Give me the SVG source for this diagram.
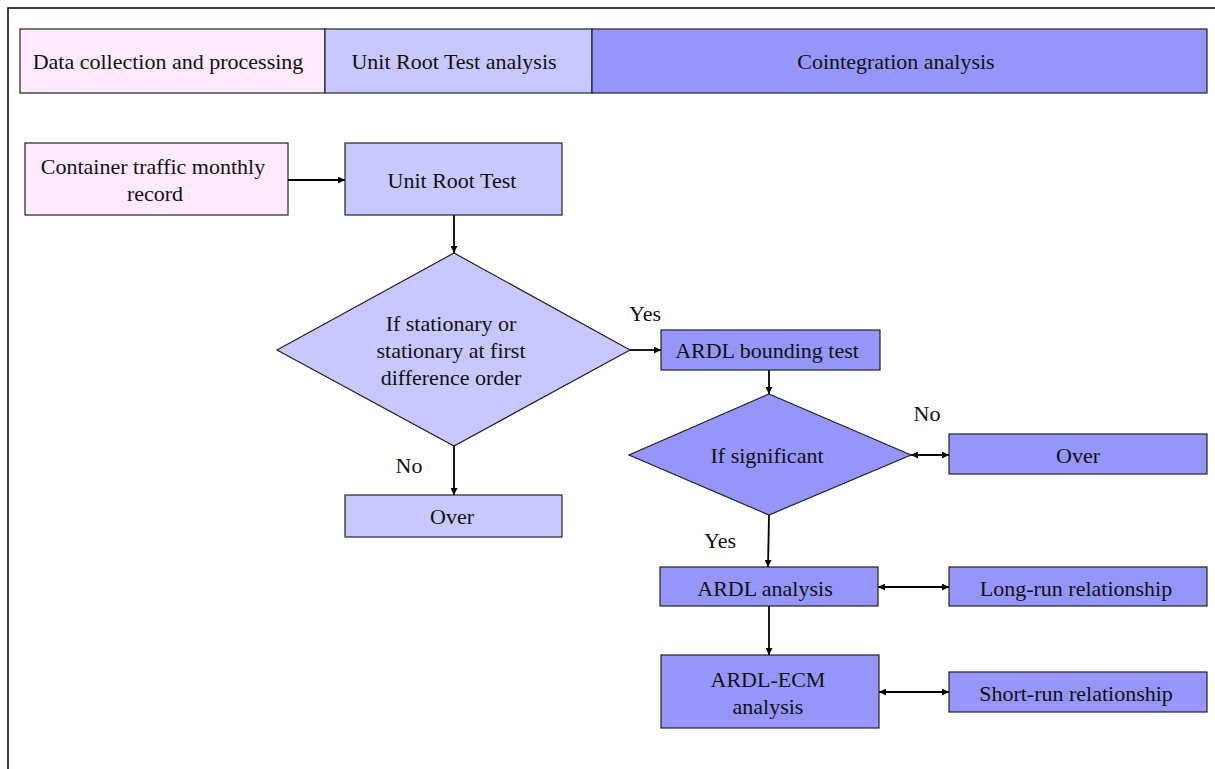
<svg xmlns="http://www.w3.org/2000/svg" width="1215" height="769" viewBox="0 0 1215 769">
  <defs>
    <style>
      .pink { fill: #fee9fe; stroke: #222; stroke-width: 1.2; }
      .lav { fill: #c8c8fe; stroke: #222; stroke-width: 1.2; }
      .blue { fill: #9696fa; stroke: #222; stroke-width: 1.2; }
      text { font-family: "Liberation Serif", "Times New Roman", serif; font-size: 22px; fill: #111; text-anchor: middle; }
      .conn { stroke: #000; stroke-width: 1.8; fill: none; }
    </style>
    <marker id="arr" viewBox="0 0 10 10" refX="10" refY="5" markerWidth="8" markerHeight="7" orient="auto-start-reverse" markerUnits="userSpaceOnUse">
      <path d="M0,0 L10,5 L0,10 z" fill="#000"/>
    </marker>
  </defs>
  <rect width="1215" height="769" fill="#fff"/>
  <!-- outer frame -->
  <path d="M8,769 L8,8 L1215,8" fill="none" stroke="#000" stroke-width="1.5"/>

  <!-- stage header -->
  <g id="header-data">
    <rect class="pink" x="20" y="29" width="305" height="64"/>
    <text x="168" y="69">Data collection and processing</text>
  </g>
  <g id="header-unitroot">
    <rect class="lav" x="325" y="29" width="267" height="64"/>
    <text x="454" y="69">Unit Root Test analysis</text>
  </g>
  <g id="header-coint">
    <rect class="blue" x="592" y="29" width="615" height="64"/>
    <text x="896" y="69">Cointegration analysis</text>
  </g>

  <!-- connectors -->
  <g id="connectors">
    <line class="conn" x1="288" y1="180" x2="345" y2="180" marker-end="url(#arr)"/>
    <line class="conn" x1="454" y1="215" x2="454" y2="253" marker-end="url(#arr)"/>
    <line class="conn" x1="454" y1="446" x2="454" y2="495" marker-end="url(#arr)"/>
    <line class="conn" x1="630" y1="350" x2="661" y2="350" marker-end="url(#arr)"/>
    <line class="conn" x1="769" y1="370" x2="769" y2="394" marker-end="url(#arr)"/>
    <line class="conn" x1="911" y1="455" x2="949" y2="455" marker-start="url(#arr)" marker-end="url(#arr)"/>
    <line class="conn" x1="769" y1="515" x2="768" y2="567" marker-end="url(#arr)"/>
    <line class="conn" x1="878" y1="587" x2="949" y2="587" marker-start="url(#arr)" marker-end="url(#arr)"/>
    <line class="conn" x1="769" y1="606" x2="769" y2="655" marker-end="url(#arr)"/>
    <line class="conn" x1="879" y1="692" x2="949" y2="692" marker-start="url(#arr)" marker-end="url(#arr)"/>
    <text x="645" y="321">Yes</text>
    <text x="409" y="473">No</text>
    <text x="927" y="421">No</text>
    <text x="720" y="548">Yes</text>
  </g>

  <g id="container-record">
    <rect class="pink" x="25" y="143" width="263" height="72"/>
    <text x="153" y="174">Container traffic monthly</text>
    <text x="155" y="201">record</text>
  </g>
  <g id="unit-root-test">
    <rect class="lav" x="345" y="143" width="217" height="72"/>
    <text x="452" y="188">Unit Root Test</text>
  </g>
  <g id="stationary-decision">
    <polygon class="lav" points="454,253 630,350 454,446 277,350"/>
    <text x="451" y="331">If stationary or</text>
    <text x="451" y="358">stationary at first</text>
    <text x="451" y="385">difference order</text>
  </g>
  <g id="over-1">
    <rect class="lav" x="345" y="495" width="217" height="42"/>
    <text x="452" y="524">Over</text>
  </g>
  <g id="ardl-bounding">
    <rect class="blue" x="661" y="330" width="219" height="40"/>
    <text x="767" y="358">ARDL bounding test</text>
  </g>
  <g id="significant-decision">
    <polygon class="blue" points="769,394 911,455 769,515 629,455"/>
    <text x="767" y="463">If significant</text>
  </g>
  <g id="over-2">
    <rect class="blue" x="949" y="434" width="258" height="40"/>
    <text x="1078" y="463">Over</text>
  </g>
  <g id="ardl-analysis">
    <rect class="blue" x="660" y="567" width="218" height="39"/>
    <text x="765" y="596">ARDL analysis</text>
  </g>
  <g id="long-run">
    <rect class="blue" x="949" y="567" width="258" height="39"/>
    <text x="1076" y="596">Long-run relationship</text>
  </g>
  <g id="ardl-ecm">
    <rect class="blue" x="661" y="655" width="218" height="73"/>
    <text x="768" y="687">ARDL-ECM</text>
    <text x="768" y="714">analysis</text>
  </g>
  <g id="short-run">
    <rect class="blue" x="949" y="672" width="258" height="40"/>
    <text x="1076" y="701">Short-run relationship</text>
  </g>
</svg>
